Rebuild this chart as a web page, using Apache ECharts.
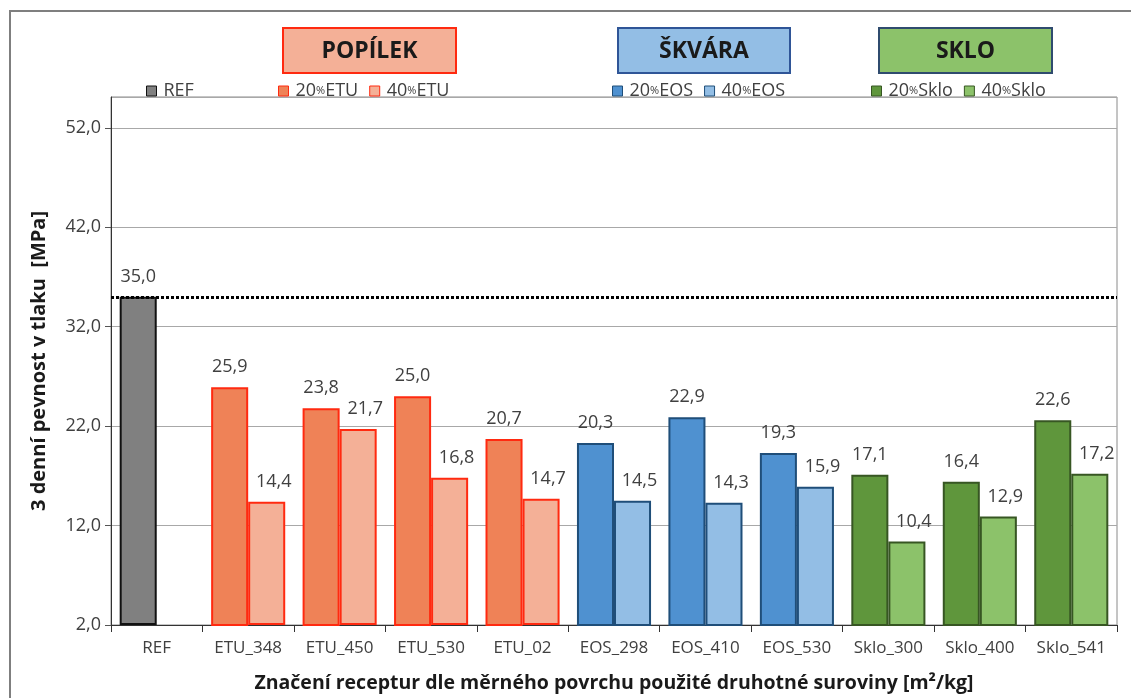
<!DOCTYPE html>
<html>
<head>
<meta charset="utf-8">
<script src="https://cdn.jsdelivr.net/npm/echarts@6/dist/echarts.min.js"></script>
<style>
html,body{margin:0;padding:0;background:#fff;}
#chart{width:1131px;height:698px;}
</style>
</head>
<body>
<div id="chart"></div>
<script>
// ---- data ----
const categories = ['REF','ETU_348','ETU_450','ETU_530','ETU_02','EOS_298','EOS_410','EOS_530','Sklo_300','Sklo_400','Sklo_541'];
const refValues   = [35.0, null, null, null, null, null, null, null, null, null, null];
const etu20Values = [null, 25.9, 23.8, 25.0, 20.7, null, null, null, null, null, null];
const etu40Values = [0,    14.4, 21.7, 16.8, 14.7, null, null, null, null, null, null];
const eos20Values = [null, null, null, null, null, 20.3, 22.9, 19.3, null, null, null];
const eos40Values = [null, null, null, null, null, 14.5, 14.3, 15.9, null, null, null];
const sklo20Values= [null, null, null, null, null, null, null, null, 17.1, 16.4, 22.6];
const sklo40Values= [null, null, null, null, null, null, null, null, 10.4, 12.9, 17.2];
const seriesNames = ['REF','20%ETU','40%ETU','20%EOS','40%EOS','20%Sklo','40%Sklo'];
const groupTitles = ['POPÍLEK','ŠKVÁRA','SKLO'];
const refLine = 35.0;
const yMin = 2, yMax = 55.1, yStep = 10;
const yName = '3 denní pevnost v tlaku  [MPa]';
const xName = 'Značení receptur dle měrného povrchu použité druhotné suroviny [m²/kg]';

// ---- chart ----
const FONT = 'Open Sans';
const fmt = v => (v === null || v === undefined || v === 0) ? '' : v.toFixed(1).replace('.', ',');

function mkSeries(name, data, stack, color, border, labelOffset) {
  return {
    name, type: 'bar', stack, data,
    barGap: '0%', barCategoryGap: '19%',
    itemStyle: { color, borderColor: border, borderWidth: 2 },
    label: {
      show: true, position: 'top', distance: 11, offset: labelOffset,
      color: '#404040', fontFamily: FONT, fontSize: 18,
      formatter: p => fmt(p.value)
    },
    emphasis: { disabled: true }
  };
}

const series = [
  mkSeries(seriesNames[0], refValues,   'A', '#808080', '#111111', [0,0]),
  mkSeries(seriesNames[1], etu20Values, 'A', '#EF8257', '#FF2A10', [0,0]),
  mkSeries(seriesNames[2], etu40Values, 'B', '#F4B097', '#FF2A10', [7,0]),
  mkSeries(seriesNames[3], eos20Values, 'A', '#4F91D0', '#1F4E79', [0,0]),
  mkSeries(seriesNames[4], eos40Values, 'B', '#93BEE5', '#1F4E79', [7,0]),
  mkSeries(seriesNames[5], sklo20Values,'A', '#5F963C', '#375623', [0,0]),
  mkSeries(seriesNames[6], sklo40Values,'B', '#8CC26A', '#375623', [7,0])
];
series[0].markLine = {
  silent: true, symbol: ['none','none'],
  label: { show: false },
  lineStyle: { type: [3,2], color: '#000', width: 3 },
  data: [{ yAxis: refLine }]
};

const legendBase = {
  top: 77, itemWidth: 10, itemHeight: 10, itemGap: 11, icon: 'rect',
  itemStyle: { borderWidth: 1 },
  selectedMode: false,
  textStyle: { fontFamily: FONT, fontSize: 18, color: '#404040', padding: [0,0,0,2],
    rich: { p: { fontFamily: FONT, fontSize: 11, color: '#404040' }, t: { fontFamily: FONT, fontSize: 18, color: '#404040' } } },
  formatter: n => n.indexOf('%') >= 0 ? '{t|' + n.split('%')[0] + '}{p|%}{t|' + n.split('%')[1] + '}' : n
};

function box(x, y, w, h, fill, stroke, text) {
  return {
    type: 'group', left: x, top: y,
    children: [
      { type: 'rect', shape: { x: 0, y: 0, width: w, height: h }, style: { fill, stroke, lineWidth: 2 } },
      { type: 'text', x: w / 2, y: h / 2 + 1, style: { text, fill: '#1a1a1a', font: 'bold 23px "' + FONT + '"', align: 'center', verticalAlign: 'middle' } }
    ]
  };
}

const chart = echarts.init(document.getElementById('chart'), null, { renderer: 'canvas' });
chart.setOption({
  animation: false,
  backgroundColor: '#ffffff',
  grid: { left: 111, right: 14, top: 97, bottom: 67, show: true, borderColor: '#8a8a8a', borderWidth: 1 },
  legend: [
    Object.assign({}, legendBase, { left: 141, data: [seriesNames[0]] }),
    Object.assign({}, legendBase, { left: 273, data: [seriesNames[1], seriesNames[2]] }),
    Object.assign({}, legendBase, { left: 607, data: [seriesNames[3], seriesNames[4]] }),
    Object.assign({}, legendBase, { left: 866, data: [seriesNames[5], seriesNames[6]] })
  ],
  xAxis: {
    type: 'category', data: categories,
    name: xName, nameLocation: 'middle', nameGap: 48,
    nameTextStyle: { fontFamily: FONT, fontWeight: 'bold', fontSize: 19.5, color: '#1a1a1a' },
    axisLine: { lineStyle: { color: '#333', width: 1 } },
    axisTick: { show: true, length: 7, lineStyle: { color: '#333' } },
    axisLabel: { interval: 0, hideOverlap: false, fontFamily: FONT, fontSize: 17, color: '#404040', margin: 15 },
    splitLine: { show: false }
  },
  yAxis: {
    type: 'value', min: yMin, max: yMax, interval: yStep, startValue: yMin,
    name: yName, nameLocation: 'middle', nameGap: 62,
    nameTextStyle: { fontFamily: FONT, fontWeight: 'bold', fontSize: 20, color: '#1a1a1a' },
    axisLine: { show: true, lineStyle: { color: '#333', width: 1 } },
    axisTick: { show: true, length: 6, lineStyle: { color: '#555' } },
    axisLabel: { fontFamily: FONT, fontSize: 18, color: '#404040', margin: 10, showMaxLabel: false,
      formatter: v => v.toFixed(1).replace('.', ',') },
    splitLine: { show: true, lineStyle: { color: '#a8a8a8', width: 1 } }
  },
  graphic: [
    { type: 'polyline', shape: { points: [[10, 710], [10, 11], [1140, 11]] }, style: { stroke: '#7f7f7f', lineWidth: 2, fill: null }, silent: true },
    box(282, 27, 173, 45, '#F4B097', '#FF2A10', groupTitles[0]),
    box(617, 27, 172, 45, '#93BEE5', '#2F5597', groupTitles[1]),
    box(878, 27, 173, 45, '#8CC26A', '#2F4B6E', groupTitles[2])
  ],
  series
});
</script>
</body>
</html>
